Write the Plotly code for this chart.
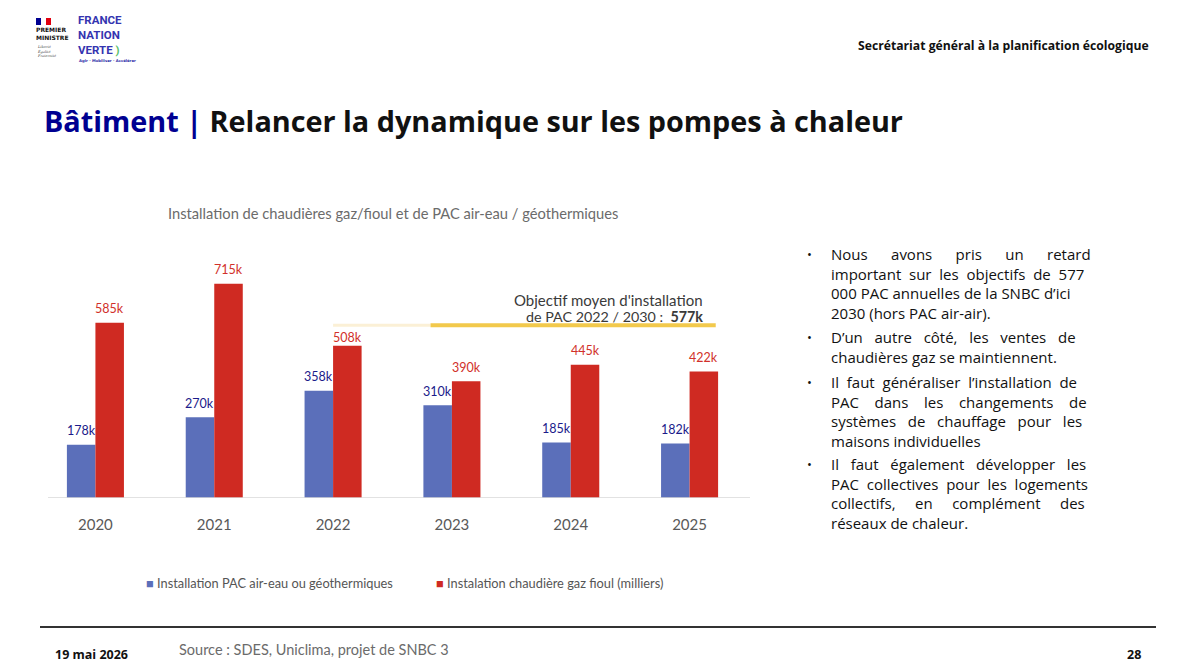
import plotly.graph_objects as go

# ---------------- data ----------------
years = ["2020", "2021", "2022", "2023", "2024", "2025"]
pac_values = [178, 270, 358, 310, 185, 182]          # milliers
chaudiere_values = [585, 715, 508, 390, 445, 422]     # milliers
objective_value = 577
objective_faint_span = [2.0, 2.82]
objective_span = [2.82, 5.22]

series_names = ["Installation PAC air-eau ou géothermiques",
                "Instalation chaudière gaz fioul (milliers)"]
blue = "#5b6fba"
red = "#cf2a22"
navy = "#1b1b8a"
red_txt = "#d1302a"

W, H = 1199, 670
L, R, T, B = 36, 450, 259, 172
PW, PH = W - L - R, H - T - B


def px(x):
    return (x - L) / PW


def py(y):
    return (H - B - y) / PH


FONT = "Lato"
WIDE = "Open Sans"

fig = go.Figure()
fig.add_trace(go.Bar(x=years, y=pac_values, name=series_names[0],
                     marker=dict(color=blue, line=dict(width=0)), showlegend=False))
fig.add_trace(go.Bar(x=years, y=chaudiere_values, name=series_names[1],
                     marker=dict(color=red, line=dict(width=0)), showlegend=False))

annotations = []
# value labels
bar_half = PW / 6 * 0.48 / 4
for i, yr in enumerate(years):
    annotations.append(dict(x=i, y=pac_values[i], xref="x", yref="y", text=f"{pac_values[i]}k",
                            showarrow=False, xshift=-bar_half, yshift=14,
                            font=dict(size=12.5, color=navy, family=FONT), yanchor="middle"))
    ys = 8 if chaudiere_values[i] == 508 else 14
    annotations.append(dict(x=i, y=chaudiere_values[i], xref="x", yref="y", text=f"{chaudiere_values[i]}k",
                            showarrow=False, xshift=bar_half, yshift=ys,
                            font=dict(size=12.5, color=red_txt, family=FONT), yanchor="middle"))

shapes = []
# objective lines
shapes.append(dict(type="line", xref="x", yref="y", x0=objective_faint_span[0], x1=objective_faint_span[1],
                   y0=objective_value, y1=objective_value, line=dict(color="#fbf0d6", width=3)))
shapes.append(dict(type="line", xref="x", yref="y", x0=objective_span[0], x1=objective_span[1],
                   y0=objective_value, y1=objective_value, line=dict(color="#f2c94c", width=4)))
# baseline
shapes.append(dict(type="line", xref="paper", yref="y", x0=px(48), x1=px(750), y0=0, y1=0,
                   line=dict(color="#d9d9d9", width=1.5)))
# footer line
shapes.append(dict(type="line", xref="paper", yref="paper", x0=px(40), x1=px(1156), y0=py(627), y1=py(627),
                   line=dict(color="#333333", width=2)))
# flag
for k, c in enumerate(["#000091", "#ffffff", "#e1000f"]):
    shapes.append(dict(type="rect", xref="paper", yref="paper", x0=px(36 + k * 5), x1=px(41 + k * 5),
                       y0=py(25), y1=py(18), fillcolor=c, line=dict(width=0)))


def txt(x, y, text, size, color, family=FONT, xanchor="left", align="left"):
    annotations.append(dict(x=px(x), y=py(y), xref="paper", yref="paper", xanchor=xanchor, yanchor="middle",
                            text=text, showarrow=False, align=align,
                            font=dict(size=size, color=color, family=family)))


# objective annotation
txt(705, 300, "Objectif moyen d'installation", 15, "#3a3a3a", xanchor="right")
txt(705, 316, "de PAC 2022 / 2030 :  <b>577k</b>", 14.3, "#3a3a3a", xanchor="right")

# chart title
txt(166, 213, "Installation de chaudières gaz/fioul et de PAC air-eau / géothermiques", 14.7, "#6b6b6b")

# legend
txt(144, 583, f"<span style='color:{blue}'>■</span> {series_names[0]}", 12.8, "#555555")
txt(434, 583, f"<span style='color:{red}'>■</span> {series_names[1]}", 12.8, "#555555")

# page title
txt(42, 121, "<b><span style='color:#000091'>Bâtiment |</span> Relancer la dynamique sur les pompes à chaleur</b>",
    28.8, "#111111", family=WIDE)
# header right
txt(1151, 45, "<b>Secrétariat général à la planification écologique</b>", 12.2, "#111111",
    family=WIDE, xanchor="right")

# logo texts
txt(34, 33, "<b>PREMIER<br>MINISTRE</b>", 6, "#111111", family="DejaVu Sans")
txt(35, 51, "<i>Liberté<br>Égalité<br>Fraternité</i>", 3.5, "#333333", family="DejaVu Serif")
txt(76, 35, "<b>FRANCE<br>NATION<br>VERTE <span style='color:#5bbf6a'>)</span></b>", 11.5, "#3434b0",
    family="Roboto")
txt(77, 60, "<b>Agir · Mobiliser · Accélérer</b>", 3.8, "#2d2da8", family="DejaVu Sans")

# bullets (justified text approximated with non-breaking spaces)
BX0, BX1 = 829, 1090
BSIZE = 15
paragraphs = [
    (283, ["Nous avons pris un retard", "important sur les objectifs de 577",
           "000 PAC annuelles de la SNBC d’ici", "2030 (hors PAC air-air)."]),
    (347, ["D’un autre côté, les ventes de", "chaudières gaz se maintiennent."]),
    (411, ["Il faut généraliser l’installation de", "PAC dans les changements de",
           "systèmes de chauffage pour les", "maisons individuelles"]),
    (493, ["Il faut également développer les", "PAC collectives pour les logements",
           "collectifs, en complément des", "réseaux de chaleur."]),
]


def char_w(c):
    if c in "il’'.,;:|!()j":
        return 0.26
    if c in "ftr-":
        return 0.36
    if c in "mwMW":
        return 0.85
    if c.isupper() or c.isdigit():
        return 0.62
    if c == " ":
        return 0.26
    return 0.55


def line_w(s):
    return sum(char_w(c) for c in s) * BSIZE * 1.05


SPACE = 0.26 * BSIZE
for yc, lines in paragraphs:
    n = len(lines)
    first_y = yc - (n - 1) * BSIZE * 1.3 / 2
    txt(809, first_y, "•", 13, "#111111", family=WIDE, xanchor="center")
    out = []
    for j, ln in enumerate(lines):
        if j == n - 1:
            out.append(ln)
            continue
        words = ln.split(" ")
        extra = max(0.0, (BX1 - BX0) - line_w(ln))
        per_gap = extra / (len(words) - 1)
        n_extra = int(round(per_gap / SPACE))
        sep = " " + "&nbsp;" * n_extra
        out.append(sep.join(words))
    txt(BX0, yc, "<br>".join(out), BSIZE, "#111111", family=WIDE)

# footer
txt(53, 654, "<b>19 mai 2026</b>", 12.5, "#111111", family=WIDE)
txt(177, 649, "Source : SDES, Uniclima, projet de SNBC 3", 14.5, "#6b6b6b")
txt(1143, 654, "<b>28</b>", 12.5, "#111111", family=WIDE, xanchor="right")

fig.update_layout(
    width=W, height=H,
    margin=dict(l=L, r=R, t=T, b=B),
    paper_bgcolor="white", plot_bgcolor="white",
    barmode="group", bargap=0.52, bargroupgap=0,
    xaxis=dict(type="category", range=[-0.5, 5.5], showgrid=False, showline=False, zeroline=False,
               ticks="outside", ticklen=13, tickcolor="rgba(0,0,0,0)",
               tickfont=dict(size=15, color="#595959", family=FONT), fixedrange=True),
    yaxis=dict(range=[0, 798], showgrid=False, showline=False, zeroline=False, showticklabels=False,
               fixedrange=True),
    showlegend=False,
    annotations=annotations, shapes=shapes,
    font=dict(family=FONT),
)

fig.write_html("out.html")
